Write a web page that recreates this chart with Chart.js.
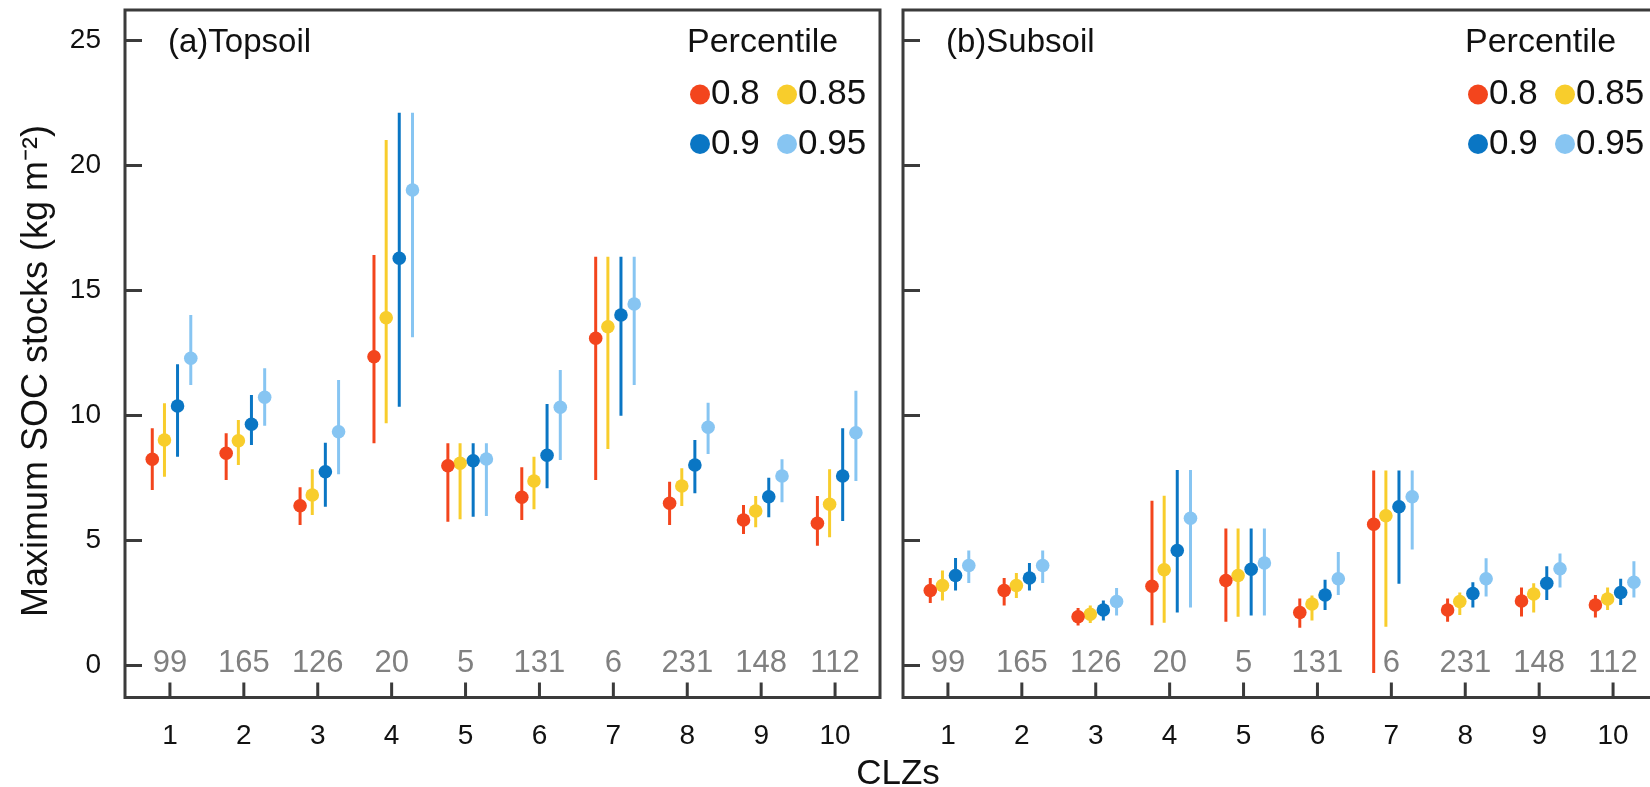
<!DOCTYPE html>
<html>
<head>
<meta charset="utf-8">
<title>Maximum SOC stocks by CLZ</title>
<script src="https://cdn.jsdelivr.net/npm/chart.js@4.4.0/dist/chart.umd.min.js"></script>
<style>
  html, body { margin: 0; padding: 0; background: #fff; overflow: hidden; }
  #wrap { position: relative; width: 1650px; height: 787px; overflow: hidden; }
  #topCanvas { position: absolute; left: 0; top: 0; }
  #subCanvas { position: absolute; left: 890px; top: 0; }
  #xTitle {
    position: absolute; left: 898px; top: 772px; transform: translate(-50%, -50%);
    font: 35px "Liberation Sans", Arial, Helvetica, sans-serif; color: #111; white-space: nowrap;
  }
</style>
</head>
<body>
<div id="wrap">
  <canvas id="topCanvas" width="892" height="787"></canvas>
  <canvas id="subCanvas" width="780" height="787"></canvas>
  <div id="xTitle">CLZs</div>
</div>
<script>
//////////////////////////////////////// data
const clzs = [1, 2, 3, 4, 5, 6, 7, 8, 9, 10];
const zoneCounts = ['99', '165', '126', '20', '5', '131', '6', '231', '148', '112'];
const percentiles = ['0.8', '0.85', '0.9', '0.95'];
const yTickValues = [0, 5, 10, 15, 20, 25];

// rows: percentile 0.8, 0.85, 0.9, 0.95 ; columns: CLZ 1..10
const topsoilValue = [
    [8.25, 8.49, 6.39, 12.35, 7.99, 6.73, 13.09, 6.49, 5.82, 5.69],
    [9.02, 8.99, 6.82, 13.91, 8.09, 7.38, 13.55, 7.18, 6.18, 6.45],
    [10.38, 9.65, 7.75, 16.29, 8.19, 8.41, 14.02, 8.02, 6.75, 7.58],
    [12.29, 10.73, 9.35, 19.02, 8.26, 10.33, 14.46, 9.53, 7.58, 9.31]
];
const topsoilLow = [
    [7.02, 7.42, 5.62, 8.89, 5.75, 5.82, 7.42, 5.62, 5.26, 4.79],
    [7.55, 8.02, 6.02, 9.69, 5.85, 6.25, 8.66, 6.38, 5.53, 5.13],
    [8.35, 8.82, 6.35, 10.35, 5.95, 7.09, 9.99, 6.89, 5.93, 5.78],
    [11.22, 9.59, 7.65, 13.13, 5.98, 8.22, 11.22, 8.46, 6.53, 7.38]
];
const topsoilHigh = [
    [9.49, 9.29, 7.13, 16.42, 8.89, 7.93, 16.35, 7.35, 6.42, 6.78],
    [10.49, 9.82, 7.85, 21.02, 8.89, 8.35, 16.35, 7.89, 6.78, 7.85],
    [12.05, 10.82, 8.91, 22.11, 8.89, 10.46, 16.35, 9.02, 7.51, 9.49],
    [14.02, 11.89, 11.42, 22.11, 8.89, 11.82, 16.35, 10.51, 8.25, 10.99]
];

const subsoilValue = [
    [3.0, 3.0, 1.95, 3.17, 3.4, 2.12, 5.65, 2.22, 2.58, 2.42],
    [3.2, 3.2, 2.05, 3.83, 3.6, 2.46, 5.99, 2.56, 2.86, 2.66],
    [3.6, 3.5, 2.22, 4.6, 3.85, 2.82, 6.35, 2.88, 3.29, 2.92],
    [4.0, 4.0, 2.56, 5.89, 4.1, 3.47, 6.75, 3.47, 3.87, 3.33]
];
const subsoilLow = [
    [2.5, 2.4, 1.6, 1.61, 1.75, 1.51, -0.3, 1.75, 1.96, 1.92],
    [2.6, 2.7, 1.7, 1.71, 1.95, 1.8, 1.55, 2.02, 2.12, 2.22],
    [3.0, 3.0, 1.8, 2.12, 2.0, 2.22, 3.27, 2.32, 2.62, 2.42],
    [3.3, 3.3, 2.0, 2.32, 2.0, 2.82, 4.64, 2.76, 3.12, 2.72]
];
const subsoilHigh = [
    [3.5, 3.5, 2.3, 6.59, 5.48, 2.68, 7.8, 2.68, 3.12, 2.82],
    [3.8, 3.7, 2.4, 6.79, 5.48, 2.8, 7.8, 2.92, 3.29, 3.12],
    [4.3, 4.1, 2.6, 7.82, 5.48, 3.43, 7.8, 3.33, 3.97, 3.47],
    [4.6, 4.6, 3.1, 7.82, 5.48, 4.54, 7.8, 4.29, 4.48, 4.17]
];

//////////////////////////////////////// look
const fontFamily = '"Liberation Sans", Arial, Helvetica, sans-serif';
const seriesColours = ['#F3451D', '#F8CD2C', '#0A76C4', '#87C5F2'];
const dodge = [-0.239, -0.074, 0.103, 0.282]; // side by side offset of each percentile
const inkColour = '#111111';
const frameColour = '#3b3b3b';

Chart.defaults.font.family = fontFamily;

// one error-bar line dataset and one dot dataset per percentile
function buildDatasets(values, lows, highs) {
    const sets = [];
    values.forEach((row, s) => {
        const segs = [];
        clzs.forEach((c, i) => {
            const xv = c + dodge[s];
            segs.push({x: xv, y: lows[s][i]});
            segs.push({x: xv, y: highs[s][i]});
            segs.push({x: xv, y: null}); // break between bars
        });
        sets.push({
            type: 'line',
            data: segs,
            borderColor: seriesColours[s],
            borderWidth: 3,
            pointRadius: 0,
            spanGaps: false,
            order: 2
        });
        sets.push({
            type: 'scatter',
            label: percentiles[s],
            data: clzs.map((c, i) => ({x: c + dodge[s], y: row[i]})),
            backgroundColor: seriesColours[s],
            borderWidth: 0,
            pointRadius: 6.8,
            order: 1
        });
    });
    return sets;
}

// frame, inward ticks, counts, panel label and legend
const panelPlugin = {
    id: 'panelDecor',
    beforeDatasetsDraw(chart) {
        const {ctx, scales: {x, y}} = chart;
        ctx.save();
        ctx.fillStyle = '#808080';
        ctx.font = '31px ' + fontFamily;
        ctx.textAlign = 'center';
        ctx.textBaseline = 'middle';
        clzs.forEach((c, i) => {
            ctx.fillText(zoneCounts[i], x.getPixelForValue(c), y.getPixelForValue(0) - 2);
        });
        ctx.restore();
    },
    afterDraw(chart, args, opts) {
        const {ctx, chartArea: a, scales: {x, y}} = chart;
        ctx.save();
        ctx.strokeStyle = frameColour;
        ctx.lineWidth = 3;
        ctx.strokeRect(a.left, a.top, a.right - a.left, a.bottom - a.top);

        ctx.beginPath();
        yTickValues.forEach(v => {
            const py = y.getPixelForValue(v);
            ctx.moveTo(a.left, py);
            ctx.lineTo(a.left + 17, py);
        });
        clzs.forEach(c => {
            const px = x.getPixelForValue(c);
            ctx.moveTo(px, a.bottom);
            ctx.lineTo(px, a.bottom - 15);
        });
        ctx.stroke();

        ctx.fillStyle = inkColour;
        ctx.textAlign = 'left';
        ctx.textBaseline = 'alphabetic';
        ctx.font = '33px ' + fontFamily;
        ctx.fillText(opts.label, a.left + 43, 52);

        // legend
        ctx.font = '34px ' + fontFamily;
        ctx.fillText('Percentile', a.left + 562, 52);
        const colX = [a.left + 575, a.left + 662];
        const rowY = [94.5, 144];
        ctx.textBaseline = 'middle';
        ctx.font = '35px ' + fontFamily;
        percentiles.forEach((p, s) => {
            const cx = colX[s % 2];
            const cy = rowY[Math.floor(s / 2)];
            ctx.fillStyle = seriesColours[s];
            ctx.beginPath();
            ctx.arc(cx, cy, 10, 0, Math.PI * 2);
            ctx.fill();
            ctx.fillStyle = inkColour;
            ctx.fillText(p, cx + 11, cy);
        });

        if (opts.yTitle) {
            ctx.save();
            ctx.translate(47, 371);
            ctx.rotate(-Math.PI / 2);
            ctx.textAlign = 'center';
            ctx.textBaseline = 'alphabetic';
            ctx.font = '36px ' + fontFamily;
            ctx.fillText(opts.yTitle, 0, 0);
            ctx.restore();
        }
        ctx.restore();
    }
};

// keep the tick labels from pushing the plot area around
function noScalePadding(s) {
    s.paddingTop = 0;
    s.paddingBottom = 0;
    s.paddingLeft = 0;
    s.paddingRight = 0;
}

function makeScales(showYLabels) {
    return {
        x: {
            type: 'linear',
            min: 0.392,
            max: 10.608,
            grid: {display: false, drawTicks: false},
            border: {display: false},
            afterBuildTicks: s => { s.ticks = clzs.map(v => ({value: v})); },
            afterFit: s => { s.height = 89.5; noScalePadding(s); },
            ticks: {font: {size: 28}, color: inkColour, padding: 22, autoSkip: false, maxRotation: 0}
        },
        y: {
            type: 'linear',
            min: -1.28,
            max: 26.22,
            grid: {display: false, drawTicks: false},
            border: {display: false},
            afterBuildTicks: s => { s.ticks = yTickValues.map(v => ({value: v})); },
            afterFit: s => { s.width = showYLabels ? 125 : 13; noScalePadding(s); },
            ticks: {display: showYLabels, font: {size: 28}, color: inkColour, padding: 24}
        }
    };
}

function makeChart(canvasId, values, lows, highs, label, yTitle) {
    const ctx = document.getElementById(canvasId).getContext('2d');
    return new Chart(ctx, {
        type: 'scatter',
        data: {datasets: buildDatasets(values, lows, highs)},
        options: {
            responsive: false,
            animation: false,
            devicePixelRatio: 1,
            layout: {padding: {top: 10, right: 12, bottom: 0, left: 0}},
            scales: makeScales(!!yTitle),
            plugins: {
                legend: {display: false},
                tooltip: {enabled: false},
                panelDecor: {label: label, yTitle: yTitle}
            }
        },
        plugins: [panelPlugin]
    });
}

makeChart('topCanvas', topsoilValue, topsoilLow, topsoilHigh, '(a)Topsoil', 'Maximum SOC stocks (kg m\u207B\u00B2)');
makeChart('subCanvas', subsoilValue, subsoilLow, subsoilHigh, '(b)Subsoil', null);
</script>
</body>
</html>
